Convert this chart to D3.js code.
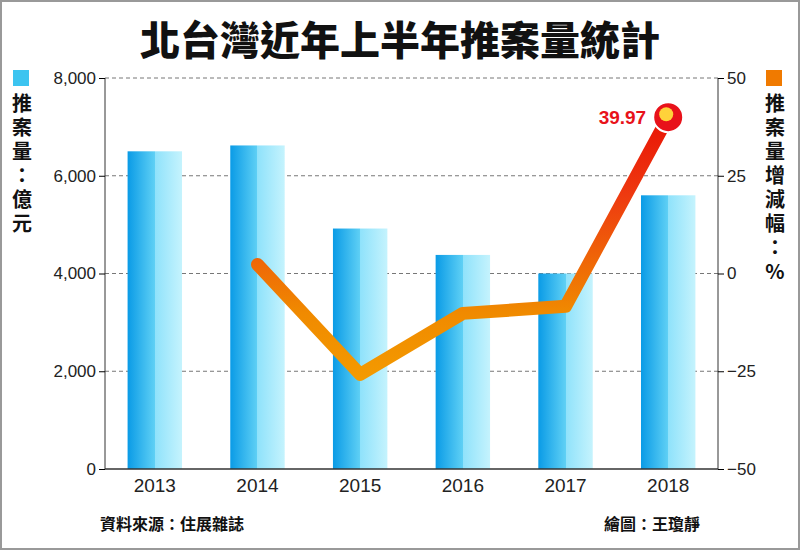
<!DOCTYPE html><html><head><meta charset="utf-8"><script src="https://d3js.org/d3.v7.min.js"></script>
<style>body{margin:0;background:#fff}svg{font-family:"Noto Sans CJK TC","Noto Sans",sans-serif}</style></head><body><svg width="800" height="550"></svg>
<script>
const years=["2013","2014","2015","2016","2017","2018"];
const amount=[6500,6620,4920,4380,4000,5600];
const growthYears=["2014","2015","2016","2017","2018"];
const growth=[2.3,-25.8,-10.2,-8.4,39.97];
const leftTicks=[0,2000,4000,6000,8000];
const rightTicks=[-50,-25,0,25,50];
const svg=d3.select("svg");
svg.append("rect").attr("x",1).attr("y",1).attr("width",798).attr("height",548).attr("fill","#fff").attr("stroke","#999").attr("stroke-width",2);
const L=105,R=718,T=78,B=469;
const x=d3.scaleBand().domain(years).range([L,R]).paddingInner(0.47).paddingOuter(0.22);
const y=d3.scaleLinear().domain([0,8000]).range([B,T]);
const y2=d3.scaleLinear().domain([-50,50]).range([B,T]);
const defs=svg.append("defs");
const g=defs.append("linearGradient").attr("id","bar").attr("x1",0).attr("x2",1);
[[0,"#0a9be6"],[0.5,"#5fd0f5"],[0.5,"#8fe2fb"],[1,"#c5f3fd"]].forEach(s=>g.append("stop").attr("offset",s[0]).attr("stop-color",s[1]));
const lg=defs.append("linearGradient").attr("id","ln").attr("gradientUnits","userSpaceOnUse").attr("x1",0).attr("y1",B).attr("x2",0).attr("y2",T);
[[0,"#f9b000"],[0.4,"#f08a00"],[0.7,"#ee3a10"],[1,"#e60000"]].forEach(s=>lg.append("stop").attr("offset",s[0]).attr("stop-color",s[1]));
svg.append("g").selectAll("line").data(leftTicks.slice(1)).join("line").attr("x1",L).attr("x2",R).attr("y1",d=>y(d)).attr("y2",d=>y(d)).attr("stroke","#777").attr("stroke-dasharray","4,3");
svg.append("g").selectAll("rect").data(amount).join("rect").attr("x",(d,i)=>x(years[i])).attr("width",x.bandwidth()).attr("y",d=>y(d)).attr("height",d=>B-y(d)).attr("fill","url(#bar)");
svg.append("line").attr("x1",L).attr("x2",R).attr("y1",B).attr("y2",B).attr("stroke","#333").attr("stroke-width",1.5);
svg.append("line").attr("x1",L).attr("x2",L).attr("y1",T).attr("y2",B).attr("stroke","#333");
svg.append("line").attr("x1",R).attr("x2",R).attr("y1",T).attr("y2",B).attr("stroke","#333");
const la=svg.append("g").attr("transform",`translate(${L},0)`).call(d3.axisLeft(y).tickValues(leftTicks).tickFormat(d3.format(",")).tickSize(6));
la.select(".domain").remove();la.selectAll("text").attr("font-size",17).attr("fill","#222").attr("font-family","Liberation Sans,Arial");
const ra=svg.append("g").attr("transform",`translate(${R},0)`).call(d3.axisRight(y2).tickValues(rightTicks).tickSize(6));
ra.select(".domain").remove();ra.selectAll("text").attr("font-size",17).attr("fill","#222").attr("font-family","Liberation Sans,Arial");
const xa=svg.append("g").attr("transform",`translate(0,${B})`).call(d3.axisBottom(x).tickSize(0).tickPadding(10));
xa.select(".domain").remove();xa.selectAll("text").attr("font-size",19).attr("fill","#222").attr("font-family","Liberation Sans,Arial");
const cx=d=>x(d)+x.bandwidth()/2;
const line=d3.line().x((d,i)=>cx(growthYears[i])).y(d=>y2(d));
svg.append("path").datum(growth).attr("d",line).attr("fill","none").attr("stroke","url(#ln)").attr("stroke-width",13).attr("stroke-linejoin","round").attr("stroke-linecap","round");
const lx=cx("2018"),ly=y2(growth[4]);
svg.append("circle").attr("cx",lx).attr("cy",ly).attr("r",15).attr("fill","#e8121a").attr("stroke","#fff").attr("stroke-width",2);
svg.append("circle").attr("cx",lx-2).attr("cy",ly-3).attr("r",7).attr("fill","#ffd23a");
svg.append("text").attr("x",lx-22).attr("y",ly+7).attr("text-anchor","end").attr("font-size",19).attr("font-weight","bold").attr("fill","#e8121a").attr("font-family","Liberation Sans,Arial").text(growth[4].toFixed(2));
svg.append("text").attr("x",400).attr("y",55).attr("text-anchor","middle").attr("font-size",40).attr("font-weight","900").attr("fill","#111").text("北台灣近年上半年推案量統計");
svg.append("rect").attr("x",13).attr("y",70).attr("width",16).attr("height",16).attr("fill","#3cc4f0");
svg.append("rect").attr("x",766).attr("y",70).attr("width",16).attr("height",16).attr("fill","#f07a00");
const vt=(xx,yy,chars)=>svg.append("g").selectAll("text").data(chars).join("text").attr("x",xx).attr("y",(d,i)=>yy+i*24).attr("text-anchor","middle").attr("font-size",20).attr("font-weight","bold").attr("fill","#111").text(d=>d);
vt(22,111,["推","案","量","：","億","元"]);
vt(775,111,["推","案","量","增","減","幅","：","%"]);
svg.append("text").attr("x",100).attr("y",530).attr("font-size",16).attr("font-weight","bold").attr("fill","#111").text("資料來源：住展雜誌");
svg.append("text").attr("x",700).attr("y",530).attr("text-anchor","end").attr("font-size",16).attr("font-weight","bold").attr("fill","#111").text("繪圖：王瓊靜");
</script></body></html>
